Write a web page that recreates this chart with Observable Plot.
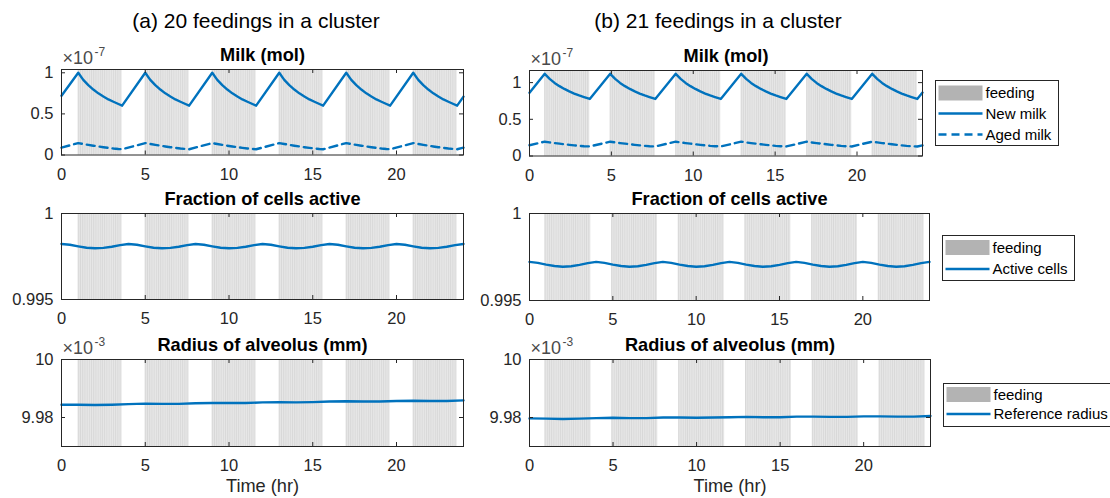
<!DOCTYPE html>
<html>
<head>
<meta charset="utf-8">
<script src="https://cdn.jsdelivr.net/npm/d3@7"></script>
<script src="https://cdn.jsdelivr.net/npm/@observablehq/plot@0.6"></script>
<style>
  body { margin: 0; background: #fff; }
  #fig { position: relative; width: 1110px; height: 498px; overflow: hidden; background: #fff;
         font-family: "Liberation Sans", Arial, sans-serif; }
  .main-title { position: absolute; font-size: 21px; color: #000; white-space: nowrap;
                transform: translate(-50%, -50%); }
  .panel { position: absolute; }
</style>
</head>
<body>
<div id="fig"></div>
<script>
// ---------------- data ----------------
const xTicks = [0, 5, 10, 15, 20];
const xDomain = [0, 24];
const milkTicks = [0, 0.5, 1];
const activeTicks = [0.995, 1];
const radiusTicks = [9.98, 10];
const milkDomainA = [0, 1.04];
const milkDomainB = [0, 1.165];
const activeDomain = [0.995, 1];
const radiusDomain = [9.97, 10];

const clusterStartsA = [1, 5, 9, 13, 17, 21];
const clusterStartsB = [0.93, 4.93, 8.93, 12.93, 16.93, 20.93];
const feedingsPerClusterA = 20;
const feedingsPerClusterB = 21;
const feedingInterval = 0.131; // hr between feedings inside a cluster

// Milk (x1e-7 mol), panel (a)
const timeA = [0,
  1, 1.3, 1.6, 1.9, 2.2, 2.5, 2.8, 3.1, 3.4, 3.62,
  5, 5.3, 5.6, 5.9, 6.2, 6.5, 6.8, 7.1, 7.4, 7.62,
  9, 9.3, 9.6, 9.9, 10.2, 10.5, 10.8, 11.1, 11.4, 11.62,
  13, 13.3, 13.6, 13.9, 14.2, 14.5, 14.8, 15.1, 15.4, 15.62,
  17, 17.3, 17.6, 17.9, 18.2, 18.5, 18.8, 19.1, 19.4, 19.62,
  21, 21.3, 21.6, 21.9, 22.2, 22.5, 22.8, 23.1, 23.4, 23.62,
  24];
const newMilkA = [0.72,
  1.000, 0.914, 0.850, 0.796, 0.750, 0.712, 0.676, 0.648, 0.620, 0.600,
  1.000, 0.914, 0.850, 0.796, 0.750, 0.712, 0.676, 0.648, 0.620, 0.600,
  1.000, 0.914, 0.850, 0.796, 0.750, 0.712, 0.676, 0.648, 0.620, 0.600,
  1.000, 0.914, 0.850, 0.796, 0.750, 0.712, 0.676, 0.648, 0.620, 0.600,
  1.000, 0.914, 0.850, 0.796, 0.750, 0.712, 0.676, 0.648, 0.620, 0.600,
  1.000, 0.914, 0.850, 0.796, 0.750, 0.712, 0.676, 0.648, 0.620, 0.600,
  0.71];
const agedMilkA = [0.090,
  0.145, 0.134, 0.123, 0.113, 0.104, 0.095, 0.087, 0.079, 0.073, 0.070,
  0.145, 0.134, 0.123, 0.113, 0.104, 0.095, 0.087, 0.079, 0.073, 0.070,
  0.145, 0.134, 0.123, 0.113, 0.104, 0.095, 0.087, 0.079, 0.073, 0.070,
  0.145, 0.134, 0.123, 0.113, 0.104, 0.095, 0.087, 0.079, 0.073, 0.070,
  0.145, 0.134, 0.123, 0.113, 0.104, 0.095, 0.087, 0.079, 0.073, 0.070,
  0.145, 0.134, 0.123, 0.113, 0.104, 0.095, 0.087, 0.079, 0.073, 0.070,
  0.090];

// Milk (x1e-7 mol), panel (b)
const timeB = [0,
  0.93, 1.23, 1.53, 1.83, 2.13, 2.43, 2.73, 3.03, 3.33, 3.68,
  4.93, 5.23, 5.53, 5.83, 6.13, 6.43, 6.73, 7.03, 7.33, 7.68,
  8.93, 9.23, 9.53, 9.83, 10.13, 10.43, 10.73, 11.03, 11.33, 11.68,
  12.93, 13.23, 13.53, 13.83, 14.13, 14.43, 14.73, 15.03, 15.33, 15.68,
  16.93, 17.23, 17.53, 17.83, 18.13, 18.43, 18.73, 19.03, 19.33, 19.68,
  20.93, 21.23, 21.53, 21.83, 22.13, 22.43, 22.73, 23.03, 23.33, 23.68,
  24];
const newMilkB = [0.862,
  1.120, 1.051, 0.996, 0.952, 0.914, 0.880, 0.851, 0.825, 0.803, 0.777,
  1.120, 1.051, 0.996, 0.952, 0.914, 0.880, 0.851, 0.825, 0.803, 0.777,
  1.120, 1.051, 0.996, 0.952, 0.914, 0.880, 0.851, 0.825, 0.803, 0.777,
  1.120, 1.051, 0.996, 0.952, 0.914, 0.880, 0.851, 0.825, 0.803, 0.777,
  1.120, 1.051, 0.996, 0.952, 0.914, 0.880, 0.851, 0.825, 0.803, 0.777,
  1.120, 1.051, 0.996, 0.952, 0.914, 0.880, 0.851, 0.825, 0.803, 0.777,
  0.864];
const agedMilkB = [0.147,
  0.195, 0.185, 0.176, 0.168, 0.160, 0.152, 0.145, 0.138, 0.133, 0.130,
  0.195, 0.185, 0.176, 0.168, 0.160, 0.152, 0.145, 0.138, 0.133, 0.130,
  0.195, 0.185, 0.176, 0.168, 0.160, 0.152, 0.145, 0.138, 0.133, 0.130,
  0.195, 0.185, 0.176, 0.168, 0.160, 0.152, 0.145, 0.138, 0.133, 0.130,
  0.195, 0.185, 0.176, 0.168, 0.160, 0.152, 0.145, 0.138, 0.133, 0.130,
  0.195, 0.185, 0.176, 0.168, 0.160, 0.152, 0.145, 0.138, 0.133, 0.130,
  0.145];

// Fraction of cells active, every half hour
const halfHours = [0, 0.5, 1, 1.5, 2, 2.5, 3, 3.5, 4, 4.5, 5, 5.5, 6, 6.5, 7, 7.5,
  8, 8.5, 9, 9.5, 10, 10.5, 11, 11.5, 12, 12.5, 13, 13.5, 14, 14.5, 15, 15.5,
  16, 16.5, 17, 17.5, 18, 18.5, 19, 19.5, 20, 20.5, 21, 21.5, 22, 22.5, 23, 23.5, 24];
const activeA = [
  0.99823, 0.99818, 0.99809, 0.99801, 0.99798, 0.99800, 0.99807, 0.99816,
  0.99823, 0.99818, 0.99809, 0.99801, 0.99798, 0.99800, 0.99807, 0.99816,
  0.99823, 0.99818, 0.99809, 0.99801, 0.99798, 0.99800, 0.99807, 0.99816,
  0.99823, 0.99818, 0.99809, 0.99801, 0.99798, 0.99800, 0.99807, 0.99816,
  0.99823, 0.99818, 0.99809, 0.99801, 0.99798, 0.99800, 0.99807, 0.99816,
  0.99823, 0.99818, 0.99809, 0.99801, 0.99798, 0.99800, 0.99807, 0.99816,
  0.99823];
const activeB = [
  0.99722, 0.99716, 0.99706, 0.99698, 0.99694, 0.99697, 0.99705, 0.99715,
  0.99722, 0.99716, 0.99706, 0.99698, 0.99694, 0.99697, 0.99705, 0.99715,
  0.99722, 0.99716, 0.99706, 0.99698, 0.99694, 0.99697, 0.99705, 0.99715,
  0.99722, 0.99716, 0.99706, 0.99698, 0.99694, 0.99697, 0.99705, 0.99715,
  0.99722, 0.99716, 0.99706, 0.99698, 0.99694, 0.99697, 0.99705, 0.99715,
  0.99722, 0.99716, 0.99706, 0.99698, 0.99694, 0.99697, 0.99705, 0.99715,
  0.99722];

// Radius of alveolus (x1e-3 mm), hourly
const hours = [0, 1, 2, 3, 4, 5, 6, 7, 8, 9, 10, 11, 12, 13, 14, 15, 16, 17, 18, 19, 20, 21, 22, 23, 24];
const radiusA = [9.9844, 9.9844, 9.9843, 9.9844, 9.9846, 9.9848, 9.9847, 9.9847, 9.9849, 9.9850,
  9.9850, 9.9850, 9.9852, 9.9853, 9.9852, 9.9853, 9.9855, 9.9856, 9.9855, 9.9855,
  9.9857, 9.9858, 9.9857, 9.9857, 9.9859];
const radiusB = [9.9797, 9.9796, 9.9795, 9.9796, 9.9798, 9.9799, 9.9798, 9.9798, 9.9800, 9.9800,
  9.9799, 9.9800, 9.9801, 9.9802, 9.9801, 9.9801, 9.9803, 9.9803, 9.9802, 9.9802,
  9.9804, 9.9804, 9.9803, 9.9803, 9.9805];

// ---------------- styling ----------------
const FONT = '"Liberation Sans", Arial, sans-serif';
const BLUE = "#0072BD";
const AXIS = "#262626";
const FEED_FILL = "#e6e6e6";
const FEED_LINE = "#cfcfcf";
const DASH = "8,5";

const fig = document.getElementById("fig");

function pts(ts, vs) { return ts.map((t, i) => ({t, v: vs[i]})); }
function feedTable(starts, n) {
  const rows = [];
  for (const s of starts) for (let i = 0; i < n; i++) {
    rows.push({start: s + i * feedingInterval, end: s + (i + 1) * feedingInterval});
  }
  return rows;
}

function panel(o) {
  const ML = 60, MR = 10, MT = 36, MB = o.xlabel ? 56 : 32;
  const w = o.w, h = o.h;
  const marks = [
    Plot.rect(o.feeds, {x1: "start", x2: "end", y1: o.yDomain[0], y2: o.yDomain[1], fill: FEED_FILL}),
    Plot.ruleX(o.feeds, {x: "start", y1: o.yDomain[0], y2: o.yDomain[1], stroke: FEED_LINE, strokeWidth: 0.6}),
    ...o.lines.map(l => Plot.line(l.data, {x: "t", y: "v", stroke: BLUE, strokeWidth: 2.4,
        strokeDasharray: l.dash ? DASH : null})),
    Plot.frame({stroke: AXIS, strokeWidth: 1}),
    Plot.tickX(xTicks, {x: d => d, insetTop: h - 4, stroke: AXIS}),
    Plot.tickX(xTicks, {x: d => d, insetBottom: h - 4, stroke: AXIS}),
    Plot.tickY(o.yTicks, {y: d => d, insetRight: w - 4, stroke: AXIS}),
    Plot.tickY(o.yTicks, {y: d => d, insetLeft: w - 4, stroke: AXIS}),
    Plot.axisX({ticks: xTicks, tickSize: 0, tickPadding: 13, tickFormat: d => String(d), label: null,
        fill: AXIS, fontSize: 16.5}),
    Plot.axisY({ticks: o.yTicks, tickSize: 0, tickPadding: 8, tickFormat: d => String(d), label: null,
        fill: AXIS, fontSize: 16.5}),
    Plot.text([o.title], {text: d => d, frameAnchor: "top", lineAnchor: "middle", dy: -14,
        fontSize: 18.2, fontWeight: "bold", fill: "#000"})
  ];
  if (o.exponent) {
    marks.push(Plot.text(["\u00d710"], {text: d => d, frameAnchor: "top-left", lineAnchor: "middle",
        textAnchor: "start", dx: 1, dy: -11, fontSize: 18, fill: "#4a4a4a"}));
    marks.push(Plot.text([o.exponent], {text: d => d, frameAnchor: "top-left", lineAnchor: "middle",
        textAnchor: "start", dx: 33, dy: -17, fontSize: 12, fill: "#4a4a4a"}));
  }
  if (o.xlabel) {
    marks.push(Plot.text([o.xlabel], {text: d => d, frameAnchor: "bottom", lineAnchor: "middle",
        dy: 40, fontSize: 18.2, fill: AXIS}));
  }
  const svg = Plot.plot({
    width: ML + w + MR, height: MT + h + MB,
    marginLeft: ML, marginRight: MR, marginTop: MT, marginBottom: MB,
    x: {domain: xDomain}, y: {domain: o.yDomain},
    style: {fontFamily: FONT, fontSize: "16.5px", color: AXIS, background: "transparent", overflow: "visible"},
    marks
  });
  const div = document.createElement("div");
  div.className = "panel";
  div.style.left = (o.left - ML) + "px";
  div.style.top = (o.top - MT) + "px";
  div.appendChild(svg);
  fig.appendChild(div);
}

function legend(x, y, w, h, items) {
  const svg = d3.create("svg").attr("width", w + 2).attr("height", h + 2)
    .style("position", "absolute").style("left", x + "px").style("top", y + "px").style("overflow", "visible");
  svg.append("rect").attr("x", 0.5).attr("y", 0.5).attr("width", w).attr("height", h)
    .attr("fill", "#fff").attr("stroke", AXIS).attr("stroke-width", 1);
  for (const it of items) {
    const cy = it.y - y;
    if (it.kind === "patch") {
      svg.append("rect").attr("x", 3.5).attr("y", cy - 7.5).attr("width", 44).attr("height", 15).attr("fill", "#b3b3b3");
    } else {
      svg.append("line").attr("x1", 3.5).attr("x2", 47.5).attr("y1", cy).attr("y2", cy)
        .attr("stroke", BLUE).attr("stroke-width", 2.4).attr("stroke-dasharray", it.kind === "dash" ? DASH : null);
    }
    svg.append("text").attr("x", 50.5).attr("y", cy).attr("dy", "0.35em")
      .attr("font-size", 15).attr("font-family", FONT).attr("fill", "#000").text(it.label);
  }
  fig.appendChild(svg.node());
}

function mainTitle(text, cx, cy) {
  const d = document.createElement("div");
  d.className = "main-title";
  d.style.left = cx + "px";
  d.style.top = cy + "px";
  d.textContent = text;
  fig.appendChild(d);
}

const feedsA = feedTable(clusterStartsA, feedingsPerClusterA);
const feedsB = feedTable(clusterStartsB, feedingsPerClusterB);

mainTitle("(a) 20 feedings in a cluster", 256, 21);
mainTitle("(b) 21 feedings in a cluster", 718, 21);

// column (a)
panel({left: 61, top: 69, w: 402, h: 85.5, yDomain: milkDomainA, yTicks: milkTicks, exponent: "-7",
  title: "Milk (mol)", feeds: feedsA,
  lines: [{data: pts(timeA, newMilkA)}, {data: pts(timeA, agedMilkA), dash: true}]});
panel({left: 61, top: 212.5, w: 402, h: 86, yDomain: activeDomain, yTicks: activeTicks,
  title: "Fraction of cells active", feeds: feedsA,
  lines: [{data: pts(halfHours, activeA)}]});
panel({left: 61, top: 358.5, w: 402, h: 87, yDomain: radiusDomain, yTicks: radiusTicks, exponent: "-3",
  title: "Radius of alveolus (mm)", feeds: feedsA, xlabel: "Time (hr)",
  lines: [{data: pts(hours, radiusA)}]});

// column (b)
panel({left: 529, top: 69.5, w: 393, h: 85.5, yDomain: milkDomainB, yTicks: milkTicks, exponent: "-7",
  title: "Milk (mol)", feeds: feedsB,
  lines: [{data: pts(timeB, newMilkB)}, {data: pts(timeB, agedMilkB), dash: true}]});
panel({left: 529, top: 212.5, w: 400, h: 87, yDomain: activeDomain, yTicks: activeTicks,
  title: "Fraction of cells active", feeds: feedsB,
  lines: [{data: pts(halfHours, activeB)}]});
panel({left: 529, top: 359, w: 401, h: 87, yDomain: radiusDomain, yTicks: radiusTicks, exponent: "-3",
  title: "Radius of alveolus (mm)", feeds: feedsB, xlabel: "Time (hr)",
  lines: [{data: pts(hours, radiusB)}]});

// legends
legend(935, 80, 123, 65, [
  {kind: "patch", label: "feeding", y: 93},
  {kind: "line", label: "New milk", y: 113.5},
  {kind: "dash", label: "Aged milk", y: 134.5}
]);
legend(942, 235, 132, 45, [
  {kind: "patch", label: "feeding", y: 247.5},
  {kind: "line", label: "Active cells", y: 269}
]);
legend(943, 383, 190, 43, [
  {kind: "patch", label: "feeding", y: 394.5},
  {kind: "line", label: "Reference radius", y: 414}
]);
</script>
</body>
</html>
